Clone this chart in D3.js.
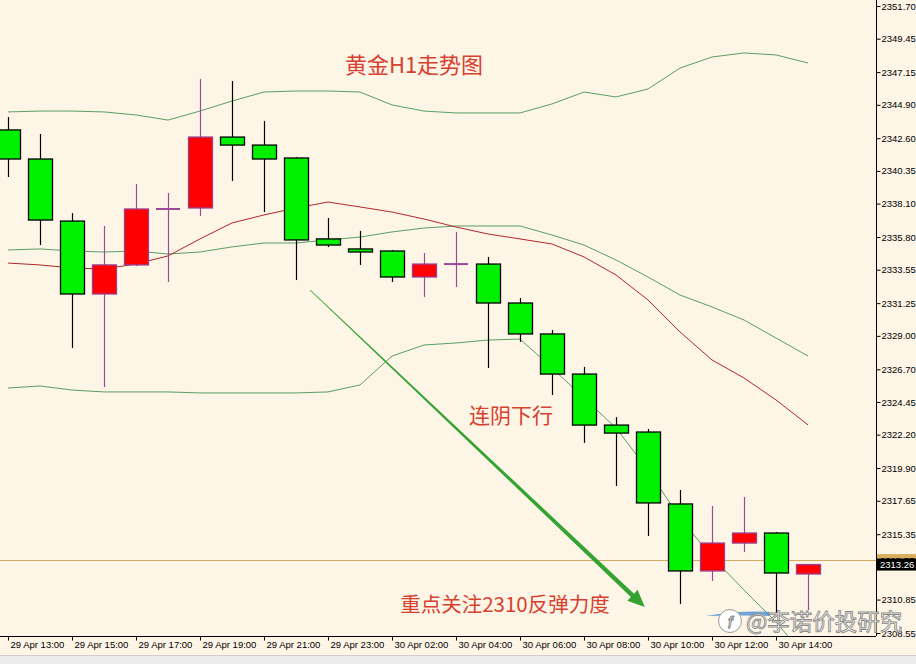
<!DOCTYPE html>
<html>
<head>
<meta charset="utf-8">
<script src="https://cdn.jsdelivr.net/npm/d3@7"></script>
<style>
  body { margin: 0; background: #fdf5e6; }
  svg { display: block; }
</style>
</head>
<body>
<div id="chart"></div>
<script>
// bar times (H1), 00:00 is missing at the daily break
var times = ["29 Apr 13:00","29 Apr 14:00","29 Apr 15:00","29 Apr 16:00","29 Apr 17:00","29 Apr 18:00",
  "29 Apr 19:00","29 Apr 20:00","29 Apr 21:00","29 Apr 22:00","29 Apr 23:00","30 Apr 01:00",
  "30 Apr 02:00","30 Apr 03:00","30 Apr 04:00","30 Apr 05:00","30 Apr 06:00","30 Apr 07:00",
  "30 Apr 08:00","30 Apr 09:00","30 Apr 10:00","30 Apr 11:00","30 Apr 12:00","30 Apr 13:00",
  "30 Apr 14:00","30 Apr 15:00"];

var open  = [2343.17,2341.17,2336.90,2331.88,2333.88,2337.73,2337.80,2342.68,2342.13,2341.24,2335.67,2334.98,2334.84,
             2333.05,2333.94,2333.94,2331.26,2329.13,2326.37,2322.86,2322.38,2317.43,2312.82,2314.74,2315.43,2312.61];
var high  = [2344.06,2342.89,2337.45,2336.56,2339.45,2338.83,2346.68,2346.54,2343.79,2341.30,2337.11,2336.22,2334.91,
             2334.70,2336.15,2334.43,2331.60,2329.40,2326.86,2323.41,2322.59,2318.39,2317.29,2317.91,2315.50,2313.30];
var low   = [2339.93,2335.25,2328.16,2325.48,2333.80,2332.71,2337.25,2339.66,2337.52,2332.84,2335.11,2333.88,2332.71,
             2331.67,2332.36,2326.79,2328.58,2324.93,2321.63,2318.67,2315.23,2310.55,2312.13,2314.12,2309.93,2310.13];
var close = [2341.17,2336.97,2331.88,2333.88,2337.73,2337.75,2342.68,2342.13,2341.17,2335.60,2335.25,2334.77,2333.05,
             2333.94,2333.96,2331.26,2329.13,2326.37,2322.86,2322.31,2317.50,2312.82,2314.74,2315.43,2312.68,2313.26];

// Bollinger bands + moving average
var bbUpper = [2344.41,2344.47,2344.47,2344.41,2344.20,2343.85,2344.47,2345.16,2345.78,2345.85,2345.85,2345.78,2344.89,
               2344.47,2344.34,2344.34,2344.34,2344.96,2345.78,2345.44,2345.99,2347.43,2348.19,2348.47,2348.33,2347.78];
var bbMid   = [2334.91,2334.98,2334.84,2334.77,2334.84,2334.63,2334.77,2335.12,2335.39,2335.39,2335.60,2335.80,2336.15,
               2336.42,2336.56,2336.56,2336.56,2335.94,2335.25,2334.22,2333.05,2331.81,2330.99,2330.09,2328.85,2327.61];
var bbLower = [2325.41,2325.55,2325.27,2325.14,2325.14,2325.14,2325.07,2325.07,2325.07,2325.07,2325.14,2325.62,2327.61,
               2328.37,2328.51,2328.71,2328.78,2326.79,2324.72,2322.66,2319.77,2316.46,2313.78,2311.51,2309.31,2306.69];
var maRed   = [2334.01,2333.88,2333.67,2333.60,2333.95,2334.50,2335.67,2336.77,2337.32,2337.80,2338.21,2337.87,2337.52,
               2337.04,2336.49,2336.01,2335.67,2335.32,2334.43,2333.19,2331.47,2329.27,2327.34,2326.10,2324.59,2322.87];

var priceTicks = [2351.70,2349.45,2347.15,2344.90,2342.60,2340.35,2338.10,2335.80,2333.55,2331.25,2329.00,
                  2326.70,2324.45,2322.20,2319.90,2317.65,2315.35,2310.85,2308.55];
var bidPrice = 2313.26, askPrice = 2313.57;

// arrow annotation [bar index, price]
var arrowFrom = [9.44, 2332.16], arrowTo = [19.9, 2310.34];

var W = 916, H = 664, plotW = 876, plotH = 636;

var svg = d3.select("#chart").append("svg")
  .attr("width", W).attr("height", H)
  .style("font-family", "'Liberation Sans', Arial, sans-serif");

svg.append("rect").attr("width", W).attr("height", H).attr("fill", "#fdf5e6");

var x = d3.scaleLinear().domain([0, 25]).range([8, 808]);
var y = d3.scaleLinear().domain([2308.55, 2351.70]).range([633, 6]);

svg.append("clipPath").attr("id", "plot")
  .append("rect").attr("width", plotW).attr("height", plotH);

var g = svg.append("g").attr("clip-path", "url(#plot)");

// bands and MA
function drawLine(vals, color) {
  g.append("path")
    .datum(vals)
    .attr("fill", "none")
    .attr("stroke", color)
    .attr("stroke-width", 1)
    .attr("d", d3.line().x(function(d, i) { return x(i); }).y(function(d) { return y(d); }));
}
drawLine(bbUpper, "#5a9e66");
drawLine(bbMid, "#5a9e66");
drawLine(bbLower, "#5a9e66");
drawLine(maRed, "#b0282a");

// ask line
g.append("line")
  .attr("x1", 0).attr("x2", plotW)
  .attr("y1", Math.round(y(askPrice)) + 0.5).attr("y2", Math.round(y(askPrice)) + 0.5)
  .attr("stroke", "#d3aa62").attr("stroke-width", 1);

// candles
var bars = d3.range(times.length);
var bodyW = 24;
var cg = g.selectAll(".candle").data(bars).enter().append("g").attr("class", "candle");

cg.append("line")
  .attr("x1", function(i) { return Math.round(x(i)) + 0.5; })
  .attr("x2", function(i) { return Math.round(x(i)) + 0.5; })
  .attr("y1", function(i) { return y(high[i]); })
  .attr("y2", function(i) { return y(low[i]); })
  .attr("stroke", function(i) { return close[i] < open[i] ? "#000" : "#9b4a9b"; })
  .attr("stroke-width", 1.2);

cg.each(function(i) {
  var el = d3.select(this);
  var cx = Math.round(x(i));
  if (Math.abs(close[i] - open[i]) < 0.1) {
    el.append("line")
      .attr("x1", cx - bodyW / 2).attr("x2", cx + bodyW / 2)
      .attr("y1", y(open[i])).attr("y2", y(open[i]))
      .attr("stroke", "#9b4a9b").attr("stroke-width", 2);
    return;
  }
  var bear = close[i] < open[i];
  var top = y(Math.max(open[i], close[i])), bot = y(Math.min(open[i], close[i]));
  el.append("rect")
    .attr("x", cx - bodyW / 2 + 0.5)
    .attr("y", top)
    .attr("width", bodyW)
    .attr("height", Math.max(1, bot - top))
    .attr("fill", bear ? "#00f000" : "#ff0000")
    .attr("stroke", bear ? "#000" : "#9b3f8f")
    .attr("stroke-width", 1.3);
});

// arrow (tapered)
(function() {
  var x0 = x(arrowFrom[0]), y0 = y(arrowFrom[1]), x1 = x(arrowTo[0]), y1 = y(arrowTo[1]);
  var dx = x1 - x0, dy = y1 - y0, len = Math.sqrt(dx * dx + dy * dy);
  var ux = dx / len, uy = dy / len, nx = -uy, ny = ux;
  var headL = 17, headW = 7.5;
  var bx = x1 - ux * headL, by = y1 - uy * headL;
  var w0 = 0.4, w1 = 2.3;
  var pts = [
    [x0 + nx * w0, y0 + ny * w0], [bx + nx * w1, by + ny * w1],
    [bx + nx * headW, by + ny * headW], [x1, y1],
    [bx - nx * headW, by - ny * headW], [bx - nx * w1, by - ny * w1],
    [x0 - nx * w0, y0 - ny * w0]
  ];
  g.append("path")
    .attr("d", "M" + pts.map(function(p) { return p.join(","); }).join("L") + "Z")
    .attr("fill", "#34a332");
})();

// annotations
function note(txt, cx, cy, size) {
  svg.append("text")
    .attr("x", cx).attr("y", cy)
    .attr("text-anchor", "middle").attr("dominant-baseline", "central")
    .attr("font-family", "'Noto Sans CJK SC', 'Noto Sans', sans-serif")
    .attr("font-size", size)
    .attr("fill", "#d8402f")
    .text(txt);
}
note("黄金H1走势图", 414, 63, 22);
note("连阴下行", 511, 414, 21);
note("重点关注2310反弹力度", 505, 603, 20.5);

// axes
var yAxis = d3.axisRight(y).tickValues(priceTicks).tickSize(4)
  .tickFormat(function(d) { return d.toFixed(2); });
var ya = svg.append("g").attr("transform", "translate(" + (plotW + 0.5) + ",0)").call(yAxis);
ya.select(".domain").attr("d", "M0,0V" + plotH);
ya.selectAll("text").attr("font-size", 9.5).attr("x", 5).attr("fill", "#000").attr("font-family", "'Liberation Sans', Arial, sans-serif");

var xAxis = d3.axisBottom(x)
  .tickValues(bars.filter(function(i) { return i % 2 === 0; }))
  .tickSize(4)
  .tickFormat(function(i) { return times[i]; });
var xa = svg.append("g").attr("transform", "translate(0," + (plotH + 0.5) + ")").call(xAxis);
xa.select(".domain").attr("d", "M0,0H" + plotW);
xa.selectAll("text").attr("font-size", 9.5).attr("text-anchor", "start").attr("x", 2).attr("dy", "0.45em")
  .attr("fill", "#000").attr("font-family", "'Liberation Sans', Arial, sans-serif");

// price labels on the axis
function priceTag(p, bg, fg) {
  var yy = y(p);
  svg.append("rect").attr("x", plotW + 1).attr("y", yy - 6).attr("width", W - plotW - 1).attr("height", 12).attr("fill", bg);
  svg.append("text").attr("x", plotW + 4).attr("y", yy).attr("dominant-baseline", "central")
    .attr("font-size", 9.5).attr("fill", fg).text(p.toFixed(2));
}
priceTag(askPrice, "#d9ae5e", "#000");
priceTag(bidPrice, "#000", "#fff");

// watermark
var wm = svg.append("g");
wm.append("path")
  .attr("d", "M706,616 Q740,610 770,612 L770,616 Q740,615 706,616 Z")
  .attr("fill", "#4c8fd6").attr("opacity", 0.8);
wm.append("circle").attr("cx", 730).attr("cy", 621).attr("r", 11.5)
  .attr("fill", "#fff").attr("stroke", "#9a9a9a").attr("stroke-width", 1);
wm.append("text").attr("x", 730).attr("y", 622).attr("text-anchor", "middle").attr("dominant-baseline", "central")
  .attr("font-size", 17).attr("font-style", "italic").attr("fill", "#fff").attr("stroke", "#777").attr("stroke-width", 0.8)
  .text("f");
wm.append("text").attr("x", 746).attr("y", 620).attr("dominant-baseline", "central")
  .attr("font-family", "'Noto Sans CJK SC', sans-serif")
  .attr("font-size", 22.5).attr("fill", "#fff").attr("stroke", "#888").attr("stroke-width", 0.9)
  .attr("opacity", 0.95)
  .text("@李诺价投研究");

// bottom strip
svg.append("rect").attr("x", 0).attr("y", 655).attr("width", W).attr("height", H - 655).attr("fill", "#ececec");
svg.append("line").attr("x1", 0).attr("x2", W).attr("y1", 655.5).attr("y2", 655.5).attr("stroke", "#d0d0d0");
</script>
</body>
</html>
